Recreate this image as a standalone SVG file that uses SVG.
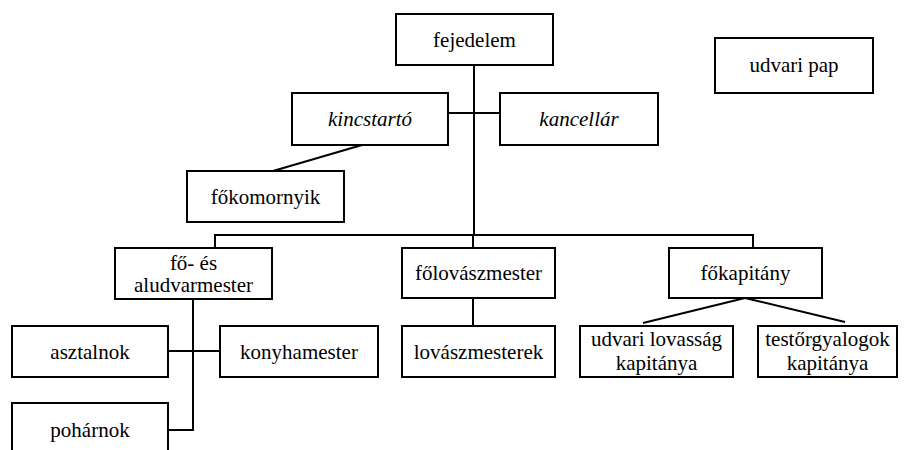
<svg xmlns="http://www.w3.org/2000/svg" width="915" height="450" viewBox="0 0 915 450" font-family="'Liberation Serif', 'Times New Roman', serif">
<style>
rect{fill:#fff;stroke:#000;stroke-width:2}
text{font-family:'Liberation Serif','Times New Roman',serif;font-size:21px;fill:#000;text-anchor:middle}
.it{font-style:italic}
#connectors line,#connectors polyline{stroke:#000;stroke-width:2;fill:none}
</style>
<rect x="0" y="0" width="915" height="450" style="fill:#fff;stroke:none"/>
<g id="connectors">
<line x1="474" y1="65" x2="474" y2="235"/>
<line x1="448" y1="113" x2="500" y2="113"/>
<line x1="362" y1="145" x2="273" y2="171"/>
<polyline points="215,248 215,235 753,235 753,248"/>
<line x1="473" y1="235" x2="473" y2="248"/>
<line x1="473" y1="298" x2="473" y2="326"/>
<polyline points="193,299 193,430 168,430"/>
<line x1="168" y1="351" x2="220" y2="351"/>
<line x1="745" y1="298" x2="643" y2="323"/>
<line x1="745" y1="298" x2="845" y2="322"/>
</g>
<g id="fejedelem"><rect x="396" y="14" width="157" height="51"/><text x="474.5" y="47">fejedelem</text></g>
<g id="kincstarto"><rect x="292" y="93" width="156" height="52"/><text class="it" x="370" y="126">kincstartó</text></g>
<g id="kancellar"><rect x="500" y="93" width="158" height="52"/><text class="it" x="579" y="126">kancellár</text></g>
<g id="udvari-pap"><rect x="715" y="38" width="158" height="55"/><text x="794" y="72">udvari pap</text></g>
<g id="fokomornyik"><rect x="187" y="171" width="157" height="51"/><text x="265.5" y="204">főkomornyik</text></g>
<g id="aludvarmester"><rect x="115" y="248" width="157" height="51"/><text x="193.5" y="270">fő- és</text><text x="193.5" y="292">aludvarmester</text></g>
<g id="folovaszmester"><rect x="402" y="248" width="153" height="50"/><text x="478.5" y="280">főlovászmester</text></g>
<g id="fokapitany"><rect x="669" y="248" width="153" height="50"/><text x="745.5" y="280">főkapitány</text></g>
<g id="asztalnok"><rect x="12" y="326" width="156" height="51"/><text x="90" y="359">asztalnok</text></g>
<g id="konyhamester"><rect x="220" y="326" width="158" height="51"/><text x="299" y="359">konyhamester</text></g>
<g id="lovaszmesterek"><rect x="402" y="326" width="153" height="51"/><text x="478.5" y="359">lovászmesterek</text></g>
<g id="lovassag"><rect x="580" y="326" width="153" height="51"/><text x="656.5" y="346">udvari lovasság</text><text x="656.5" y="370">kapitánya</text></g>
<g id="testorgyalogok"><rect x="758" y="326" width="139" height="51"/><text x="827.5" y="346">testőrgyalogok</text><text x="827.5" y="370">kapitánya</text></g>
<g id="poharnok"><rect x="12" y="403" width="156" height="60"/><text x="90" y="437">pohárnok</text></g>
</svg>
